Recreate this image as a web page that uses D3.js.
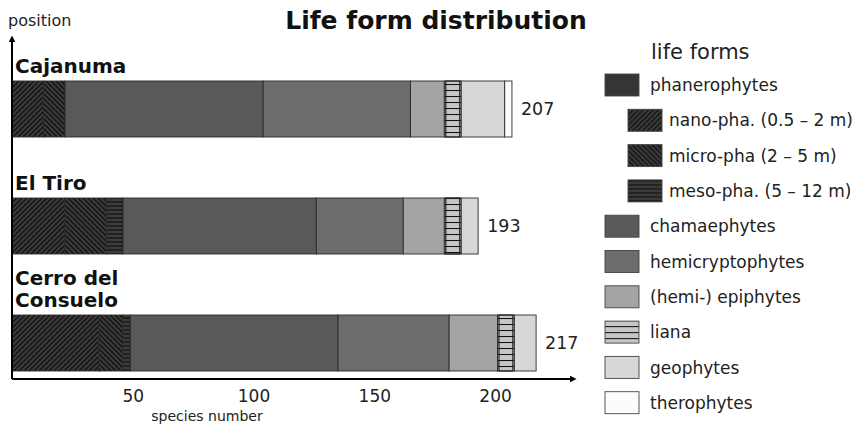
<!DOCTYPE html>
<html>
<head>
<meta charset="utf-8">
<script src="https://cdn.jsdelivr.net/npm/d3@7"></script>
<style>
  body { margin: 0; background: #fff; }
  svg { display: block; font-family: "DejaVu Sans", sans-serif; }
</style>
</head>
<body>
<div id="life_chart"></div>
<script>
// data (species counts)
const sites = ["Cajanuma", "El Tiro", "Cerro del Consuelo"];
const siteLines = [["Cajanuma"], ["El Tiro"], ["Cerro del", "Consuelo"]];
const lifeForms = ["nano", "micro", "meso", "cham", "hemi", "epi", "liana", "geo", "thero"];
const cajanuma = [13, 9, 0, 82, 61, 14, 7, 18, 3];
const elTiro = [22, 17, 7, 80, 36, 17, 7, 7, 0];
const cerro = [36, 10, 3, 86, 46, 20, 7, 9, 0];
const totals = [207, 193, 217];
const tickValues = [50, 100, 150, 200];
const legendKeys = ["phanero", "nano", "micro", "meso", "cham", "hemi", "epi", "liana", "geo", "thero"];
const legendLabels = ["phanerophytes", "nano-pha. (0.5 \u2013 2 m)", "micro-pha (2 \u2013 5 m)", "meso-pha. (5 \u2013 12 m)",
    "chamaephytes", "hemicryptophytes", "(hemi-) epiphytes", "liana", "geophytes", "therophytes"];

const width = 867, height = 428;
const siteValues = [cajanuma, elTiro, cerro];

const svg = d3.select("#life_chart")
    .append("svg")
    .attr("width", width)
    .attr("height", height);

// patterns
const defs = svg.append("defs");
function hatch(id, bg, d, size, sw) {
    const p = defs.append("pattern")
        .attr("id", id)
        .attr("patternUnits", "userSpaceOnUse")
        .attr("width", size).attr("height", size);
    p.append("rect").attr("width", size).attr("height", size).attr("fill", bg);
    p.append("path").attr("d", d).attr("stroke", "#111").attr("stroke-width", sw).attr("fill", "none");
}
hatch("p-nano", "#3c3c3c", "M0,5 L5,0 M-1,1 L1,-1 M4,6 L6,4", 5, 1.4);
hatch("p-micro", "#3c3c3c", "M0,0 L5,5 M4,-1 L6,1 M-1,4 L1,6", 5, 1.4);
hatch("p-meso", "#3c3c3c", "M0,2 L4,2", 4, 1.3);
hatch("p-liana", "#c6c6c6", "M0,0.5 L6,0.5", 6, 1.1);

const fills = {
    phanero: "#353535",
    nano: "url(#p-nano)",
    micro: "url(#p-micro)",
    meso: "url(#p-meso)",
    cham: "#595959",
    hemi: "#6c6c6c",
    epi: "#a4a4a4",
    liana: "url(#p-liana)",
    geo: "#d7d7d7",
    thero: "#fcfcfc"
};
const subKeys = new Set(["nano", "micro", "meso"]);

// scales
const x = d3.scaleLinear()
    .domain([0, 230])
    .range([12, 567.5]);

const y = d3.scaleBand()
    .domain(sites)
    .range([81, 371])
    .paddingInner(0.5214)
    .paddingOuter(0);

// stacked bars
const rows = sites.map((s, i) => {
    let acc = 0;
    return lifeForms.map((k, j) => {
        const v = siteValues[i][j];
        const seg = {site: s, key: k, x0: acc, x1: acc + v};
        acc += v;
        return seg;
    }).filter(d => d.x1 > d.x0);
});

svg.append("g")
    .selectAll("g")
    .data(rows)
    .join("g")
    .selectAll("rect")
    .data(d => d)
    .join("rect")
    .attr("x", d => x(d.x0))
    .attr("y", d => y(d.site))
    .attr("width", d => x(d.x1) - x(d.x0))
    .attr("height", y.bandwidth())
    .attr("fill", d => fills[d.key])
    .attr("stroke", "#2a2a2a")
    .attr("stroke-width", 0.9);

// liana ladder sides
svg.append("g")
    .selectAll("rect")
    .data(rows.flat().filter(d => d.key === "liana"))
    .join("rect")
    .attr("x", d => x(d.x0) + 1.5)
    .attr("y", d => y(d.site))
    .attr("width", d => x(d.x1) - x(d.x0) - 3)
    .attr("height", y.bandwidth())
    .attr("fill", "none")
    .attr("stroke", "#222")
    .attr("stroke-width", 1.2);

// totals
svg.append("g")
    .selectAll("text")
    .data(sites)
    .join("text")
    .attr("x", (d, i) => x(totals[i]) + 9)
    .attr("y", d => y(d) + y.bandwidth() / 2)
    .attr("dy", "0.36em")
    .style("font-size", "17.5px")
    .attr("fill", "#222")
    .text((d, i) => totals[i]);

// site labels
svg.append("g")
    .selectAll("text")
    .data(sites)
    .join("text")
    .attr("x", 15)
    .attr("y", d => y(d) - 8)
    .style("font-size", "20px")
    .style("font-weight", "bold")
    .attr("fill", "#111")
    .each(function(d, i) {
        const lines = siteLines[i];
        d3.select(this).selectAll("tspan")
            .data(lines)
            .join("tspan")
            .attr("x", 15)
            .attr("dy", (l, j) => j === 0 ? -(lines.length - 1) * 22 : 22)
            .text(l => l);
    });

// axes
const axisY = 379;
defs.append("marker")
    .attr("id", "arrow")
    .attr("viewBox", "0 0 10 10")
    .attr("refX", 2).attr("refY", 5)
    .attr("markerWidth", 7).attr("markerHeight", 7)
    .attr("markerUnits", "userSpaceOnUse")
    .attr("orient", "auto")
    .append("path")
    .attr("d", "M0,0 L10,5 L0,10 Z")
    .attr("fill", "#000");

svg.append("line")
    .attr("x1", 12).attr("y1", axisY)
    .attr("x2", 571).attr("y2", axisY)
    .attr("stroke", "#000").attr("stroke-width", 2)
    .attr("marker-end", "url(#arrow)");

svg.append("line")
    .attr("x1", 12).attr("y1", axisY)
    .attr("x2", 12).attr("y2", 41)
    .attr("stroke", "#000").attr("stroke-width", 2)
    .attr("marker-end", "url(#arrow)");

const xAxis = svg.append("g")
    .attr("transform", `translate(0, ${axisY})`)
    .call(d3.axisBottom(x).tickValues(tickValues).tickSize(0).tickPadding(11));
xAxis.select(".domain").remove();
xAxis.selectAll("text")
    .style("font-family", "DejaVu Sans, sans-serif")
    .style("font-size", "17px")
    .attr("fill", "#222");

svg.append("text")
    .attr("x", 207)
    .attr("y", 421)
    .attr("text-anchor", "middle")
    .style("font-size", "14px")
    .attr("fill", "#222")
    .text("species number");

svg.append("text")
    .attr("x", 8)
    .attr("y", 26)
    .style("font-size", "16px")
    .attr("fill", "#222")
    .text("position");

// title
svg.append("text")
    .attr("x", 436)
    .attr("y", 29)
    .attr("text-anchor", "middle")
    .style("font-size", "25px")
    .style("font-weight", "bold")
    .attr("fill", "#111")
    .text("Life form distribution");

// legend
const legend = svg.append("g");
legend.append("text")
    .attr("x", 651)
    .attr("y", 59)
    .style("font-size", "21px")
    .attr("fill", "#222")
    .text("life forms");

const item = legend.selectAll("g.item")
    .data(legendKeys)
    .join("g")
    .attr("class", "item")
    .attr("transform", (d, i) => `translate(${subKeys.has(d) ? 628 : 605}, ${85 + i * 35.3})`);

item.append("rect")
    .attr("x", 0)
    .attr("y", -11)
    .attr("width", 34)
    .attr("height", 22)
    .attr("fill", d => fills[d])
    .attr("stroke", "#444")
    .attr("stroke-width", 0.9);

item.append("text")
    .attr("x", d => subKeys.has(d) ? 41 : 45)
    .attr("y", 0)
    .attr("dy", "0.36em")
    .style("font-size", "17px")
    .attr("fill", "#222")
    .text((d, i) => legendLabels[i]);
</script>
</body>
</html>
